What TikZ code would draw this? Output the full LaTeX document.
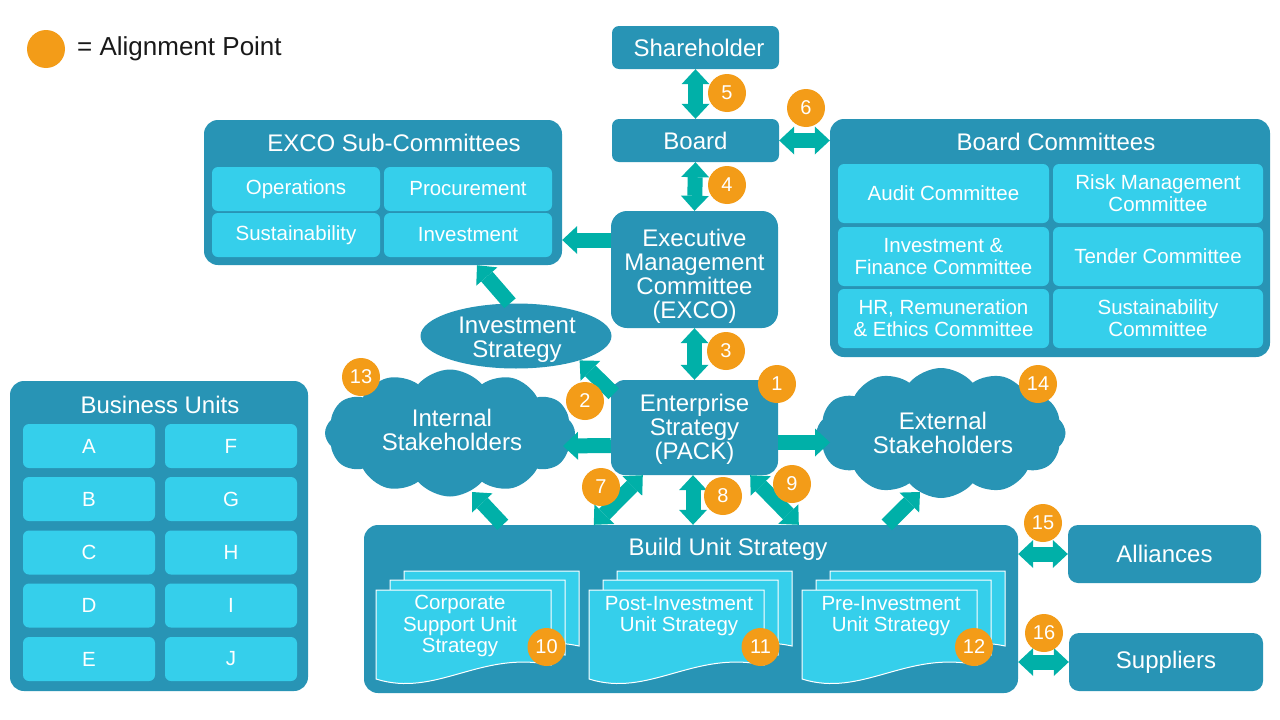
\documentclass[tikz,border=0pt]{standalone}
\usepackage{fontspec}
\setmainfont{Liberation Sans}
\usetikzlibrary{arrows.meta,shapes.geometric,shapes.symbols}
\definecolor{boxc}{HTML}{2894B5}
\definecolor{cellc}{HTML}{35CFEB}
\definecolor{arrc}{HTML}{00B0A8}
\definecolor{badgec}{HTML}{F39C18}
\newcommand\fsz[2]{\fontsize{#1pt}{#2pt}\selectfont}
\newcommand\docshape[2]{%
  \filldraw[docpage] (#1,#2) -- ({#1+175},#2) -- ({#1+175},{#2+75})
    .. controls ({#1+105},{#2+60}) and ({#1+60},{#2+108}) .. (#1,{#2+89}) -- cycle;}
\newcommand\docstack[2]{%
  \docshape{#1+28}{#2-19}\docshape{#1+14}{#2-10}\docshape{#1}{#2}}
\begin{document}
\begin{tikzpicture}[x=1pt,y=-1pt,
  box/.style={fill=boxc, rounded corners=7pt, text=white, inner sep=0pt, align=center, font=\fsz{24}{24}},
  bigbox/.style={fill=boxc, rounded corners=14pt, inner sep=0pt},
  title/.style={text=white, inner sep=0pt, align=center, font=\fsz{24}{24}},
  cell/.style={fill=cellc, rounded corners=6pt, text=white, inner sep=0pt, align=center, font=\fsz{20.5}{22}},
  doctext/.style={text=white, inner sep=0pt, align=center, font=\fsz{20.5}{21.5}},
  badge/.style={circle, fill=badgec, text=white, minimum size=38pt, inner sep=0pt, font=\fsz{20}{20}},
  docpage/.style={fill=cellc, draw=white, line width=1pt},
  cloudbox/.style={cloud, cloud puffs=12, cloud puff arc=100, aspect=1.95, fill=boxc, inner sep=0pt},
  sarrow/.style={draw=arrc, line width=15pt, -{Triangle[width=28pt,length=15pt,line width=0pt]}},
  darrow/.style={draw=arrc, line width=15pt, {Triangle[width=28pt,length=15pt,line width=0pt]}-{Triangle[width=28pt,length=15pt,line width=0pt]}},
]
\useasboundingbox (0,0) rectangle (1280,720);
\fill[white] (0,0) rectangle (1280,720);

% legend
\node[badge] (leg) at (46,49) {};
\node[anchor=west, inner sep=0pt, text=black!90, font=\fsz{26}{26}] (legt) at (77,49) {= Alignment Point};

% top chain
\node[box, minimum width=167pt, minimum height=43pt] (sh) at (695.5,47.5) {\hspace{7pt}Shareholder};
\node[box, minimum width=167pt, minimum height=43pt] (board) at (695.5,140.5) {Board};
\node[box, rounded corners=16pt, minimum width=167pt, minimum height=117pt] (exco) at (694.5,269.5) {};
\node[title] (excot) at (694.5,276) {Executive\\Management\\Committee\\(EXCO)};
\node[box, rounded corners=14pt, minimum width=167pt, minimum height=95pt] (ent) at (694.5,427.5) {};
\node[title] (entt) at (694.5,429.5) {Enterprise\\Strategy\\(PACK)};

% Board committees
\node[bigbox, minimum width=440pt, minimum height=238pt] (bc) at (1050,238) {};
\node[title] (bct) at (1056,142) {Board Committees};
\node[cell, minimum width=211pt, minimum height=59pt] (bc1) at (943.5,193.5) {Audit Committee};
\node[cell, minimum width=210pt, minimum height=59pt] (bc2) at (1158,193.5) {Risk Management\\Committee};
\node[cell, minimum width=211pt, minimum height=59pt] (bc3) at (943.5,256.5) {Investment \&\\Finance Committee};
\node[cell, minimum width=210pt, minimum height=59pt] (bc4) at (1158,256.5) {Tender Committee};
\node[cell, minimum width=211pt, minimum height=59pt] (bc5) at (943.5,318.5) {HR, Remuneration\\\& Ethics Committee};
\node[cell, minimum width=210pt, minimum height=59pt] (bc6) at (1158,318.5) {Sustainability\\Committee};

% EXCO sub-committees
\node[bigbox, minimum width=358pt, minimum height=145pt] (sub) at (383,192.5) {};
\node[title] (subt) at (394,143) {EXCO Sub-Committees};
\node[cell, minimum width=168pt, minimum height=44pt] (s1) at (296,189) {Operations};
\node[cell, minimum width=168pt, minimum height=44pt] (s2) at (468,189) {Procurement};
\node[cell, minimum width=168pt, minimum height=44pt] (s3) at (296,235) {Sustainability};
\node[cell, minimum width=168pt, minimum height=44pt] (s4) at (468,235) {Investment};

% Investment strategy
\node[ellipse, fill=boxc, inner sep=0pt, minimum width=191pt, minimum height=65pt] (inv) at (516,336) {};
\node[title] (invt) at (517,340) {Investment\\Strategy};

% Business units
\node[bigbox, minimum width=298pt, minimum height=310pt] (bu) at (159,536) {};
\node[title] (but) at (160,405) {Business Units};
\node[cell, minimum width=132pt, minimum height=44pt] (bA) at (89,446) {A};
\node[cell, minimum width=132pt, minimum height=44pt] (bB) at (89,499) {B};
\node[cell, minimum width=132pt, minimum height=44pt] (bC) at (89,552.5) {C};
\node[cell, minimum width=132pt, minimum height=44pt] (bD) at (89,605.5) {D};
\node[cell, minimum width=132pt, minimum height=44pt] (bE) at (89,659) {E};
\node[cell, minimum width=132pt, minimum height=44pt] (bF) at (231,446) {F};
\node[cell, minimum width=132pt, minimum height=44pt] (bG) at (231,499) {G};
\node[cell, minimum width=132pt, minimum height=44pt] (bH) at (231,552.5) {H};
\node[cell, minimum width=132pt, minimum height=44pt] (bI) at (231,605.5) {I};
\node[cell, minimum width=132pt, minimum height=44pt] (bJ) at (231,659) {J};

% clouds
\node[cloudbox, minimum width=250pt, minimum height=127pt] (int) at (450,433) {};
\node[title] (intt) at (452,430) {Internal\\Stakeholders};
\node[cloudbox, minimum width=249pt, minimum height=130pt] (ext) at (941,433) {};
\node[title] (extt) at (943,433) {External\\Stakeholders};

% build unit strategy
\node[bigbox, minimum width=654pt, minimum height=168pt] (build) at (691,609) {};
\node[title] (buildt) at (728,549) {Build Unit Strategy};
\docstack{376}{590}
\docstack{589}{590}
\docstack{802}{590}
\node[doctext] (d1) at (460,626) {Corporate\\Support Unit\\Strategy};
\node[doctext] (d2) at (679,616) {Post-Investment\\Unit Strategy};
\node[doctext] (d3) at (891,616) {Pre-Investment\\Unit Strategy};

% partners
\node[box, rounded corners=10pt, minimum width=193pt, minimum height=58pt] (all) at (1164.5,554) {Alliances};
\node[box, rounded corners=10pt, minimum width=194pt, minimum height=58pt] (sup) at (1166,662) {Suppliers};

% coordinates for cloud ends
\coordinate (intR) at (563,446);
\coordinate (intB) at (472,492);
\coordinate (extL) at (830,442.5);
\coordinate (extB) at (920,492);

% arrows
\draw[darrow] (sh.south) -- (board.north);
\draw[darrow] (board.south) -- (exco.north);
\draw[darrow] (board.east) -- (board.east -| bc.west);
\draw[darrow] (exco.south) -- (ent.north);
\draw[darrow] ([xshift=-1.5pt]ent.south) -- ([xshift=-1.5pt]ent.south |- build.north);
\draw[sarrow] ([yshift=29.5pt]exco.west) -- ([yshift=29.5pt]exco.west -| sub.east);
\draw[sarrow] ([xshift=-6pt]inv.north) -- ([xshift=94pt]sub.south);
\draw[sarrow] ([shift={(3,14)}]ent.north west) -- (inv.-21.5);
\draw[sarrow] ([yshift=-18pt]ent.west) -- (intR);
\draw[sarrow] ([yshift=-15pt]ent.east) -- (extL);
\draw[sarrow] ([xshift=139pt]build.north west) -- (intB);
\draw[sarrow] ([xshift=523pt]build.north west) -- (extB);
\draw[darrow] ([xshift=32pt]ent.south west) -- ([xshift=230pt]build.north west);
\draw[darrow] ([xshift=-28pt]ent.south east) -- ([xshift=435pt]build.north west);
\draw[darrow] (all.west -| build.east) -- (all.west);
\draw[darrow] (sup.west -| build.east) -- (sup.west);

% badges
\node[badge] (b1) at (777,384) {1};
\node[badge] (b2) at (585,401) {2};
\node[badge] (b3) at (726,351) {3};
\node[badge] (b4) at (727,185) {4};
\node[badge] (b5) at (727,93) {5};
\node[badge] (b6) at (806,108) {6};
\node[badge] (b7) at (601,487) {7};
\node[badge] (b8) at (723,496) {8};
\node[badge] (b9) at (792,484) {9};
\node[badge] (b10) at (546.5,647) {10};
\node[badge] (b11) at (760.5,647) {11};
\node[badge] (b12) at (974,647) {12};
\node[badge] (b13) at (361,377) {13};
\node[badge] (b14) at (1038,384) {14};
\node[badge] (b15) at (1043,523) {15};
\node[badge] (b16) at (1044,633) {16};
\end{tikzpicture}
\end{document}
